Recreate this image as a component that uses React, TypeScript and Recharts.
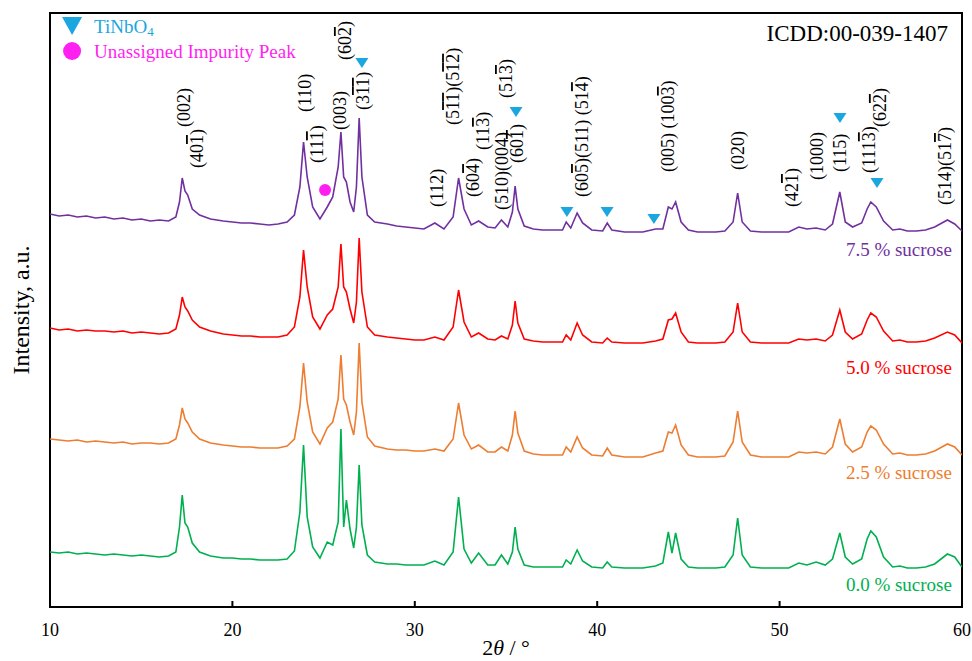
import { LineChart, Line, XAxis, YAxis, ReferenceArea, ReferenceDot } from "recharts";

const SERIF = '"Liberation Serif", "Times New Roman", serif';
const BLUE = "#1BA6E0";
const MAGENTA = "#FF1FF0";

// 2θ grid (degrees)
const twoTheta = [
  10, 10.5, 11, 11.5, 12, 12.5, 13, 13.5, 14, 14.5,
  15, 15.5, 16, 16.5, 16.9, 17.1, 17.25, 17.4, 17.55, 17.8,
  18.2, 18.8, 19.5, 20, 20.5, 21, 21.5, 22, 22.5, 23,
  23.4, 23.7, 23.9, 24.1, 24.4, 24.8, 25.2, 25.5, 25.8, 25.95,
  26.1, 26.25, 26.45, 26.65, 26.8, 26.95, 27.1, 27.4, 27.8, 28.5,
  29, 29.5, 30, 30.5, 31.1, 31.6, 32.1, 32.4, 32.7, 33.1,
  33.5, 34, 34.4, 34.75, 35.1, 35.35, 35.5, 35.65, 36, 36.5,
  37, 37.5, 38.1, 38.3, 38.55, 38.9, 39.2, 39.7, 40.3, 40.55,
  40.8, 41.5, 42, 42.5, 43.2, 43.6, 43.9, 44.1, 44.3, 44.6,
  45, 45.5, 46, 46.5, 47, 47.45, 47.7, 47.95, 48.4, 49,
  49.5, 50, 50.5, 51.05, 51.5, 52, 52.5, 52.9, 53.3, 53.6,
  54, 54.5, 54.8, 55, 55.3, 55.7, 56.2, 56.6, 57, 57.5,
  58, 58.5, 59.2, 59.6, 60,
];

// intensities (a.u., offset traces)
const sucrose75 = [
  393, 391, 392, 390, 391, 389, 390, 388, 389, 387,
  388, 386, 387, 386, 390, 405, 429, 416, 412, 398,
  392, 388, 386, 385, 384, 384, 383, 382, 383, 385,
  392, 420, 465, 430, 400, 388, 400, 410, 440, 475,
  430, 425, 405, 395, 420, 489, 430, 392, 385, 383,
  381, 380, 379, 378, 384, 378, 390, 429, 398, 382,
  386, 380, 379, 387, 380, 395, 421, 398, 381, 378,
  377, 377, 377, 385, 379, 394, 384, 377, 376, 384,
  377, 375, 375, 375, 378, 378, 400, 398, 405, 385,
  377, 375, 375, 375, 376, 385, 414, 385, 376, 375,
  375, 375, 375, 380, 378, 379, 377, 383, 415, 385,
  380, 384, 398, 405, 400, 386, 377, 378, 376, 376,
  377, 380, 387, 383, 376,
];

const sucrose50 = [
  279, 277, 278, 276, 277, 276, 276, 275, 276, 274,
  275, 274, 273, 274, 278, 292, 310, 300, 296, 287,
  280, 276, 273, 272, 271, 271, 270, 270, 270, 272,
  280, 310, 357, 320, 290, 278, 292, 298, 320, 363,
  320, 315, 298, 284, 305, 369, 315, 280, 272, 270,
  269, 268, 267, 267, 270, 267, 280, 317, 285, 270,
  274, 268, 267, 271, 268, 282, 306, 284, 268, 266,
  265, 265, 265, 272, 267, 284, 272, 265, 264, 269,
  265, 264, 264, 264, 266, 268, 287, 288, 294, 275,
  265, 264, 264, 264, 265, 275, 304, 275, 265, 264,
  264, 264, 264, 268, 267, 268, 266, 272, 297, 275,
  268, 273, 287, 294, 290, 276, 266, 267, 265, 265,
  266, 269, 275, 272, 264,
];

const sucrose25 = [
  168, 167, 166, 167, 165, 166, 165, 164, 165, 163,
  164, 164, 163, 164, 168, 182, 199, 188, 184, 175,
  168, 164, 162, 161, 160, 160, 159, 159, 159, 161,
  168, 200, 244, 205, 175, 163, 179, 185, 208, 252,
  208, 202, 185, 172, 195, 264, 205, 170, 161, 158,
  157, 157, 156, 156, 158, 156, 168, 204, 172, 158,
  162, 155, 155, 160, 156, 172, 196, 174, 156, 153,
  152, 152, 152, 160, 155, 170, 159, 152, 151, 159,
  152, 150, 150, 150, 154, 156, 175, 174, 182, 162,
  152, 150, 150, 150, 151, 165, 196, 165, 152, 150,
  150, 150, 150, 155, 154, 155, 153, 160, 188, 163,
  155, 160, 175, 181, 177, 163, 153, 154, 152, 152,
  153, 156, 163, 160, 152,
];

const sucrose00 = [
  55, 54, 55, 53, 54, 53, 52, 53, 52, 51,
  52, 51, 50, 51, 55, 80, 112, 84, 80, 64,
  55, 51, 49, 49, 48, 48, 47, 47, 47, 48,
  56, 95, 162, 90, 60, 49, 65, 62, 85, 178,
  80, 107, 78, 59, 80, 142, 82, 52, 45, 43,
  43, 42, 42, 42, 46, 42, 55, 110, 58, 44,
  54, 42, 42, 52, 43, 55, 80, 58, 42, 40,
  40, 40, 40, 47, 43, 57, 46, 40, 39, 45,
  40, 39, 39, 39, 41, 44, 75, 54, 74, 48,
  40, 39, 39, 39, 40, 52, 89, 52, 40, 39,
  39, 39, 39, 44, 42, 45, 42, 48, 74, 50,
  43, 48, 68, 76, 70, 50, 40, 41, 39, 39,
  40, 43, 53, 50, 40,
];

const xTicks = [10, 20, 30, 40, 50, 60];

const series = [
  { key: "s75", name: "7.5 % sucrose", color: "#7030A0", labelAt: 358 },
  { key: "s50", name: "5.0 % sucrose", color: "#FF0000", labelAt: 240 },
  { key: "s25", name: "2.5 % sucrose", color: "#ED7D31", labelAt: 135 },
  { key: "s00", name: "0.0 % sucrose", color: "#00B050", labelAt: 23 },
];

// Miller indices; "-d" means digit with overbar
const millerLabels = [
  { t: 17.35, v: 480, text: "(002)" },
  { t: 18.06, v: 439, text: "(40-1)" },
  { t: 23.98, v: 495, text: "(110)" },
  { t: 24.64, v: 444, text: "(11-1)" },
  { t: 25.9, v: 477, text: "(003)" },
  { t: 26.17, v: 547, text: "(60-2)" },
  { t: 27.16, v: 497, text: "(3-1-1)" },
  { t: 31.2, v: 400, text: "(112)" },
  { t: 32.1, v: 482, text: "(5-1-1)(5-1-2)" },
  { t: 33.2, v: 410, text: "(60-4)" },
  { t: 33.74, v: 457, text: "(11-3)" },
  { t: 34.78, v: 397, text: "(510)(004)" },
  { t: 35.0, v: 509, text: "(51-3)" },
  { t: 35.6, v: 444, text: "(60-1)" },
  { t: 39.17, v: 410, text: "(60-5)(511) (51-4)" },
  { t: 43.88, v: 435, text: "(005) (100-3)" },
  { t: 47.72, v: 437, text: "(020)" },
  { t: 50.68, v: 400, text: "(42-1)" },
  { t: 52.05, v: 427, text: "(1000)" },
  { t: 53.31, v: 435, text: "(115)" },
  { t: 54.9, v: 434, text: "(111-3)" },
  { t: 55.5, v: 480, text: "(62-2)" },
  { t: 59.07, v: 402, text: "(514)(51-7)" },
];

const tinbo4Marks = [
  { t: 27.1, v: 544 },
  { t: 35.55, v: 495 },
  { t: 38.34, v: 395 },
  { t: 40.54, v: 395 },
  { t: 43.11, v: 388 },
  { t: 53.31, v: 489 },
  { t: 55.34, v: 424 },
];

const impurityMarks = [{ t: 25.08, v: 417 }];

const data = twoTheta.map((t, i) => ({
  t,
  s75: sucrose75[i],
  s50: sucrose50[i],
  s25: sucrose25[i],
  s00: sucrose00[i],
}));

const renderMiller = (text: string) => {
  const parts: JSX.Element[] = [];
  let i = 0;
  let k = 0;
  while (i < text.length) {
    if (text[i] === "-") {
      parts.push(
        <tspan key={k++} style={{ textDecoration: "overline" }}>
          {text[i + 1]}
        </tspan>
      );
      i += 2;
    } else {
      let j = i;
      while (j < text.length && text[j] !== "-") j++;
      parts.push(<tspan key={k++}>{text.slice(i, j)}</tspan>);
      i = j;
    }
  }
  return parts;
};

const MillerShape = (text: string) => (props: any) => {
  const { cx, cy } = props;
  return (
    <text
      x={cx}
      y={cy}
      transform={`rotate(-90 ${cx} ${cy})`}
      dominantBaseline="central"
      fontFamily={SERIF}
      fontSize={18}
      fill="#000"
      style={{ whiteSpace: "pre" }}
    >
      {renderMiller(text)}
    </text>
  );
};

const Triangle = (w: number, h: number) => (props: any) => {
  const { cx, cy } = props;
  return (
    <path
      d={`M${cx - w / 2},${cy - h / 2}L${cx + w / 2},${cy - h / 2}L${cx},${cy + h / 2}Z`}
      fill={BLUE}
    />
  );
};

const Dot = (props: any) => <circle cx={props.cx} cy={props.cy} r={6} fill={MAGENTA} />;

const LegendShape = (props: any) => {
  const { cx, cy } = props;
  return (
    <g fontFamily={SERIF} fontSize={19}>
      <path d={`M${cx - 10},${cy - 9}L${cx + 10},${cy - 9}L${cx},${cy + 9}Z`} fill={BLUE} />
      <text x={cx + 22} y={cy} dominantBaseline="central" fill={BLUE}>
        TiNbO<tspan fontSize={13} dy={5}>4</tspan>
      </text>
      <circle cx={cx} cy={cy + 25} r={9} fill={MAGENTA} />
      <text x={cx + 22} y={cy + 25} dominantBaseline="central" fill={MAGENTA}>
        Unassigned Impurity Peak
      </text>
    </g>
  );
};

const TextShape = (text: string, color: string, size: number) => (props: any) => (
  <text
    x={props.cx}
    y={props.cy}
    textAnchor="end"
    dominantBaseline="central"
    fontFamily={SERIF}
    fontSize={size}
    fill={color}
  >
    {text}
  </text>
);

const YTitleShape = (props: any) => {
  const { cx, cy } = props;
  return (
    <text
      x={cx}
      y={cy}
      transform={`rotate(-90 ${cx} ${cy})`}
      textAnchor="middle"
      dominantBaseline="central"
      fontFamily={SERIF}
      fontSize={24}
      fill="#000"
    >
      Intensity, a.u.
    </text>
  );
};

const XTick = (props: any) => {
  const { x, y, payload } = props;
  return (
    <g>
      <line x1={x} y1={y} x2={x} y2={y - 6} stroke="#000" strokeWidth={2} />
      <text x={x} y={y + 29} textAnchor="middle" fontFamily={SERIF} fontSize={18} fill="#000">
        {payload.value}
      </text>
    </g>
  );
};

const XTitle = (props: any) => {
  const { viewBox } = props;
  const cx = viewBox.x + viewBox.width / 2;
  return (
    <text x={cx} y={viewBox.y + 48} textAnchor="middle" fontFamily={SERIF} fontSize={22} fill="#000">
      2<tspan fontStyle="italic">θ</tspan> / °
    </text>
  );
};

export default function App() {
  return (
    <div style={{ position: "absolute", left: 0, top: 0, width: 972, height: 661, background: "#fff" }}>
      <LineChart width={972} height={661} data={data} margin={{ top: 13, right: 10, bottom: 24, left: 50 }}>
        <XAxis
          dataKey="t"
          type="number"
          domain={[10, 60]}
          ticks={xTicks}
          tickLine={false}
          axisLine={false}
          tickSize={0}
          tickMargin={0}
          height={30}
          tick={XTick}
          label={{ content: XTitle }}
          allowDataOverflow
        />
        <YAxis type="number" domain={[0, 594]} hide allowDataOverflow />
        <ReferenceArea x1={10} x2={60} y1={0} y2={594} fill="none" fillOpacity={0} stroke="#000" strokeWidth={2} ifOverflow="visible" />
        {series.map((s) => (
          <Line
            key={s.key}
            dataKey={s.key}
            type="linear"
            stroke={s.color}
            strokeWidth={1.6}
            dot={false}
            isAnimationActive={false}
          />
        ))}
        {millerLabels.map((m, i) => (
          <ReferenceDot key={`m${i}`} x={m.t} y={m.v} r={0} ifOverflow="visible" shape={MillerShape(m.text)} />
        ))}
        {tinbo4Marks.map((m, i) => (
          <ReferenceDot key={`tri${i}`} x={m.t} y={m.v} r={0} ifOverflow="visible" shape={Triangle(13, 10)} />
        ))}
        {impurityMarks.map((m, i) => (
          <ReferenceDot key={`imp${i}`} x={m.t} y={m.v} r={0} ifOverflow="visible" shape={Dot} />
        ))}
        {series.map((s) => (
          <ReferenceDot key={`lbl${s.key}`} x={59.45} y={s.labelAt} r={0} ifOverflow="visible" shape={TextShape(s.name, s.color, 19)} />
        ))}
        <ReferenceDot x={59.23} y={574} r={0} ifOverflow="visible" shape={TextShape("ICDD:00-039-1407", "#000", 23)} />
        <ReferenceDot x={11.21} y={581} r={0} ifOverflow="visible" shape={LegendShape} />
        <ReferenceDot x={8.4} y={297} r={0} ifOverflow="visible" shape={YTitleShape} />
      </LineChart>
    </div>
  );
}
